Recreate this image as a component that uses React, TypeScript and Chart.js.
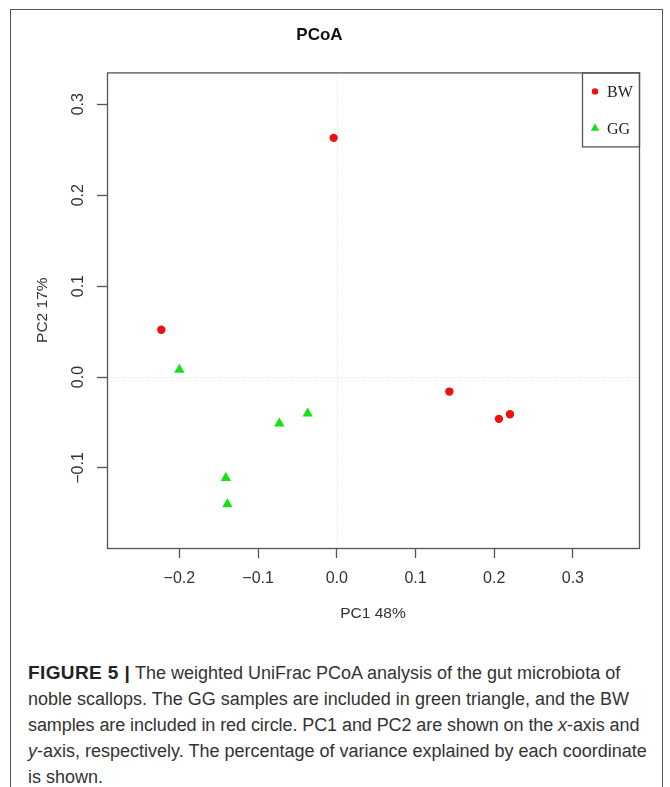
import React, { useEffect, useRef } from 'react';
import { Chart, registerables } from 'chart.js';

Chart.register(...registerables);

// ---- data ----
const chartTitle = 'PCoA';
const xAxisTitle = 'PC1 48%';
const yAxisTitle = 'PC2 17%';
const seriesNames = ['BW', 'GG'];
const bwX = [-0.223, -0.004, 0.143, 0.206, 0.22];
const bwY = [0.052, 0.263, -0.016, -0.046, -0.041];
const ggX = [-0.2, -0.073, -0.037, -0.141, -0.139];
const ggY = [0.008, -0.051, -0.04, -0.111, -0.14];
const xTickValues = [-0.2, -0.1, 0.0, 0.1, 0.2, 0.3];
const xTickLabels = ['\u22120.2', '\u22120.1', '0.0', '0.1', '0.2', '0.3'];
const yTickValues = [-0.1, 0.0, 0.1, 0.2, 0.3];
const yTickLabels = ['\u22120.1', '0.0', '0.1', '0.2', '0.3'];
const xRange = [-0.292, 0.384];
const yRange = [-0.188, 0.335];
const captionLines = [
  [' The weighted UniFrac PCoA analysis of the gut microbiota of'],
  ['noble scallops. The GG samples are included in green triangle, and the BW'],
  ['samples are included in red circle. PC1 and PC2 are shown on the ', 'x', '-axis and'],
  ['', 'y', '-axis, respectively. The percentage of variance explained by each coordinate'],
  ['is shown.'],
];

const RED = '#f01010';
const GREEN = '#16e016';
const AXIS = '#555';
const TEXT = '#333';
const SANS = '"Liberation Sans", Arial, sans-serif';

const boxPlugin = {
  id: 'boxPlugin',
  beforeDatasetsDraw(chart: any) {
    const { ctx, chartArea, scales } = chart;
    const x0 = Math.round(scales.x.getPixelForValue(0)) + 0.5;
    const y0 = Math.round(scales.y.getPixelForValue(0)) + 0.5;
    ctx.save();
    ctx.strokeStyle = '#dcdcdc';
    ctx.lineWidth = 1;
    ctx.setLineDash([1, 2]);
    ctx.beginPath();
    ctx.moveTo(x0, chartArea.top);
    ctx.lineTo(x0, chartArea.bottom);
    ctx.moveTo(chartArea.left, y0);
    ctx.lineTo(chartArea.right, y0);
    ctx.stroke();
    ctx.restore();
  },
  afterDraw(chart: any) {
    const { ctx, chartArea } = chart;
    ctx.save();
    ctx.strokeStyle = AXIS;
    ctx.lineWidth = 1.3;
    ctx.strokeRect(chartArea.left + 0.5, chartArea.top + 0.5, chartArea.right - chartArea.left, chartArea.bottom - chartArea.top);
    // legend box
    const bw = 57;
    const bh = 74;
    const lx = chartArea.right - bw;
    const ly = chartArea.top;
    ctx.strokeRect(lx + 0.5, ly + 0.5, bw, bh);
    const ds = chart.data.datasets;
    const rows = [19, 56];
    ds.forEach((d: any, i: number) => {
      const cx = lx + 13;
      const cy = ly + rows[i];
      ctx.fillStyle = d.backgroundColor;
      ctx.beginPath();
      if (d.pointStyle === 'triangle') {
        const r = 4.8;
        ctx.moveTo(cx, cy - r);
        ctx.lineTo(cx + r * 0.866, cy + r / 2);
        ctx.lineTo(cx - r * 0.866, cy + r / 2);
        ctx.closePath();
      } else {
        ctx.arc(cx, cy, 3.2, 0, Math.PI * 2);
      }
      ctx.fill();
      ctx.fillStyle = '#222';
      ctx.font = '16px "Liberation Serif", serif';
      ctx.textBaseline = 'middle';
      ctx.textAlign = 'left';
      ctx.fillText(d.label, lx + 25, cy + 1);
    });
    ctx.restore();
  },
};

export default function App() {
  const ref = useRef<HTMLCanvasElement | null>(null);

  useEffect(() => {
    if (!ref.current) return;
    const chart = new Chart(ref.current, {
      type: 'scatter',
      data: {
        datasets: [
          {
            label: seriesNames[0],
            data: bwX.map((x, i) => ({ x, y: bwY[i] })),
            backgroundColor: RED,
            borderColor: RED,
            pointStyle: 'circle',
            pointRadius: 4.2,
            borderWidth: 0,
          },
          {
            label: seriesNames[1],
            data: ggX.map((x, i) => ({ x, y: ggY[i] })),
            backgroundColor: GREEN,
            borderColor: GREEN,
            pointStyle: 'triangle',
            pointRadius: 6,
            borderWidth: 0,
          },
        ],
      },
      options: {
        animation: false,
        responsive: false,
        devicePixelRatio: 1,
        layout: { padding: { left: 0, right: 31, top: 0, bottom: 0 } },
        plugins: {
          legend: { display: false },
          tooltip: { enabled: false },
          title: {
            display: true,
            text: chartTitle,
            color: '#111',
            font: { family: SANS, size: 17, weight: 'bold' },
            padding: { top: 25, bottom: 27 },
          },
        },
        scales: {
          x: {
            type: 'linear',
            min: xRange[0],
            max: xRange[1],
            afterFit(scale: any) {
              scale.height = 92;
            },
            afterBuildTicks(scale: any) {
              scale.ticks = xTickValues.map((v) => ({ value: v }));
            },
            ticks: {
              autoSkip: false,
              includeBounds: false,
              maxRotation: 0,
              color: TEXT,
              padding: 11,
              font: { family: SANS, size: 16 },
              callback: (_v: any, i: number) => xTickLabels[i],
            },
            grid: { display: true, drawOnChartArea: false, drawTicks: true, tickLength: 10, tickColor: AXIS, tickWidth: 1.3 },
            border: { display: false },
            title: {
              display: true,
              text: xAxisTitle,
              color: TEXT,
              font: { family: SANS, size: 15.5 },
              padding: { top: 0, bottom: 17 },
            },
          },
          y: {
            type: 'linear',
            min: yRange[0],
            max: yRange[1],
            afterFit(scale: any) {
              scale.width = 107;
            },
            afterBuildTicks(scale: any) {
              scale.ticks = yTickValues.map((v) => ({ value: v }));
            },
            ticks: {
              autoSkip: false,
              includeBounds: false,
              minRotation: 90,
              maxRotation: 90,
              crossAlign: 'center',
              color: TEXT,
              padding: 3,
              font: { family: SANS, size: 16 },
              callback: (_v: any, i: number) => yTickLabels[i],
            },
            grid: { display: true, drawOnChartArea: false, drawTicks: true, tickLength: 10, tickColor: AXIS, tickWidth: 1.3 },
            border: { display: false },
            title: {
              display: true,
              text: yAxisTitle,
              color: TEXT,
              font: { family: SANS, size: 15.5 },
              padding: { top: 33, bottom: 0 },
            },
          },
        },
      },
      plugins: [boxPlugin],
    } as any);
    return () => chart.destroy();
  }, []);

  return (
    <div style={{ position: 'absolute', left: 0, top: 0, width: 670, height: 787, overflow: 'hidden', background: '#fff' }}>
      <div
        style={{
          position: 'absolute',
          left: 10,
          top: 9,
          width: 651,
          height: 800,
          borderLeft: '1.5px solid #555',
          borderTop: '1.5px solid #555',
          borderRight: '1.5px solid #555',
        }}
      />
      <canvas ref={ref} width={670} height={640} style={{ position: 'absolute', left: 0, top: 0, width: 670, height: 640 }} />
      <div
        style={{
          position: 'absolute',
          left: 28,
          top: 660,
          fontFamily: SANS,
          fontSize: 18,
          lineHeight: '26px',
          color: '#333',
          whiteSpace: 'nowrap',
        }}
      >
        {captionLines.map((parts, i) => (
          <div key={i} style={{ letterSpacing: i === 2 ? '-0.08px' : undefined }}>
            {i === 0 ? <b style={{ color: '#222', fontSize: 19, letterSpacing: '0.4px' }}>FIGURE 5 |</b> : null}
            {parts.map((p, j) => (j % 2 === 1 ? <i key={j}>{p}</i> : <span key={j}>{p}</span>))}
          </div>
        ))}
      </div>
    </div>
  );
}
